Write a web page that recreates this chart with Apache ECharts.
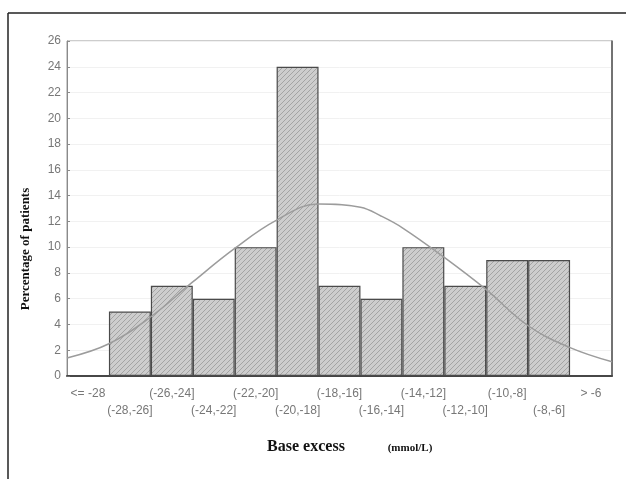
<!DOCTYPE html>
<html>
<head>
<meta charset="utf-8">
<script src="https://cdn.jsdelivr.net/npm/echarts@6/dist/echarts.min.js"></script>
<style>
  html, body { margin: 0; padding: 0; background: #fff; }
  #chart { width: 626px; height: 479px; }
</style>
</head>
<body>
<div id="chart"></div>
<script>
const categories = ["<= -28", "(-28,-26]", "(-26,-24]", "(-24,-22]", "(-22,-20]", "(-20,-18]",
  "(-18,-16]", "(-16,-14]", "(-14,-12]", "(-12,-10]", "(-10,-8]", "(-8,-6]", "> -6"];
const percentages = [0, 5, 7, 6, 10, 24, 7, 6, 10, 7, 9, 9, 0];
// fitted normal curve (x in category units)
const curvePos = [-0.5, 0.5, 1.5, 2.5, 3.5, 4.5, 5.5, 6.5, 7.0, 7.5, 8.5, 9.5, 10.5, 11.5, 12.5];
const curveVal = [1.4, 2.5, 4.6, 7.3, 9.9, 12.1, 13.35, 13.1, 12.4, 11.5, 9.2, 6.7, 3.9, 2.2, 1.1];

// hatch pattern for the bars
function hatch() {
  const c = document.createElement("canvas");
  c.width = 5; c.height = 5;
  const g = c.getContext("2d");
  g.fillStyle = "#cdcdcd";
  g.fillRect(0, 0, 5, 5);
  g.strokeStyle = "#a4a4a4";
  g.lineWidth = 1;
  g.beginPath();
  g.moveTo(0, 5); g.lineTo(5, 0);
  g.moveTo(-1, 1); g.lineTo(1, -1);
  g.moveTo(4, 6); g.lineTo(6, 4);
  g.stroke();
  return c;
}

let myChart = echarts.init(document.getElementById("chart"));

let option = {
  animation: false,
  backgroundColor: "#fff",
  grid: {
    left: 67, top: 41, right: 14, bottom: 103,
    show: true, borderColor: "#9a9a9a", borderWidth: 1
  },
  xAxis: [
    {
      type: "category",
      data: categories,
      axisLine: { lineStyle: { color: "#444", width: 2 } },
      axisTick: { show: false },
      axisLabel: {
        interval: 0,
        margin: 9,
        color: "#777",
        fontSize: 12,
        fontFamily: "Liberation Sans",
        lineHeight: 17,
        formatter: (v, i) => (i % 2 ? "\n" + v : v)
      }
    },
    { type: "value", min: -0.5, max: 12.5, show: false }
  ],
  yAxis: [
    {
      type: "value",
      min: 0, max: 26, interval: 2,
      axisLine: { show: true, onZero: false, lineStyle: { color: "#8a8a8a" } },
      axisTick: { show: true, inside: true, length: 3, lineStyle: { color: "#8a8a8a" } },
      axisLabel: { color: "#777", fontSize: 12, fontFamily: "Liberation Sans", margin: 6 },
      splitLine: { lineStyle: { color: "#f1f1f1" } }
    },
    {
      type: "value", position: "right",
      min: 0, max: 26, interval: 2,
      axisLine: { show: true, onZero: false, lineStyle: { color: "#555", width: 1.5 } },
      axisTick: { show: false },
      axisLabel: { show: false },
      splitLine: { show: false }
    }
  ],
  series: [
    {
      type: "bar",
      data: percentages,
      barCategoryGap: "0%",
      itemStyle: {
        color: { image: hatch(), repeat: "repeat" },
        borderColor: "#4a4a4a",
        borderWidth: 1.2
      }
    },
    {
      type: "line",
      xAxisIndex: 1,
      data: curvePos.map((p, i) => [p, curveVal[i]]),
      smooth: 0.4,
      showSymbol: false,
      lineStyle: { color: "#9c9c9c", width: 1.5 }
    }
  ],
  graphic: [
    { type: "line", shape: { x1: 8, y1: 13, x2: 626, y2: 13 }, style: { stroke: "#222", lineWidth: 1.5 } },
    { type: "line", shape: { x1: 8, y1: 13, x2: 8, y2: 479 }, style: { stroke: "#222", lineWidth: 1.5 } },
    {
      type: "text", x: 26, y: 249, rotation: Math.PI / 2,
      style: {
        text: "Percentage of patients",
        font: "bold 13px 'Liberation Serif'",
        fill: "#111", align: "center", verticalAlign: "middle"
      }
    },
    {
      type: "text", x: 306, y: 447,
      style: {
        text: "Base excess",
        font: "bold 16px 'Liberation Serif'",
        fill: "#111", align: "center", verticalAlign: "middle"
      }
    },
    {
      type: "text", x: 410, y: 448,
      style: {
        text: "(mmol/L)",
        font: "bold 11px 'Liberation Serif'",
        fill: "#111", align: "center", verticalAlign: "middle"
      }
    }
  ]
};
myChart.setOption(option);
</script>
</body>
</html>
